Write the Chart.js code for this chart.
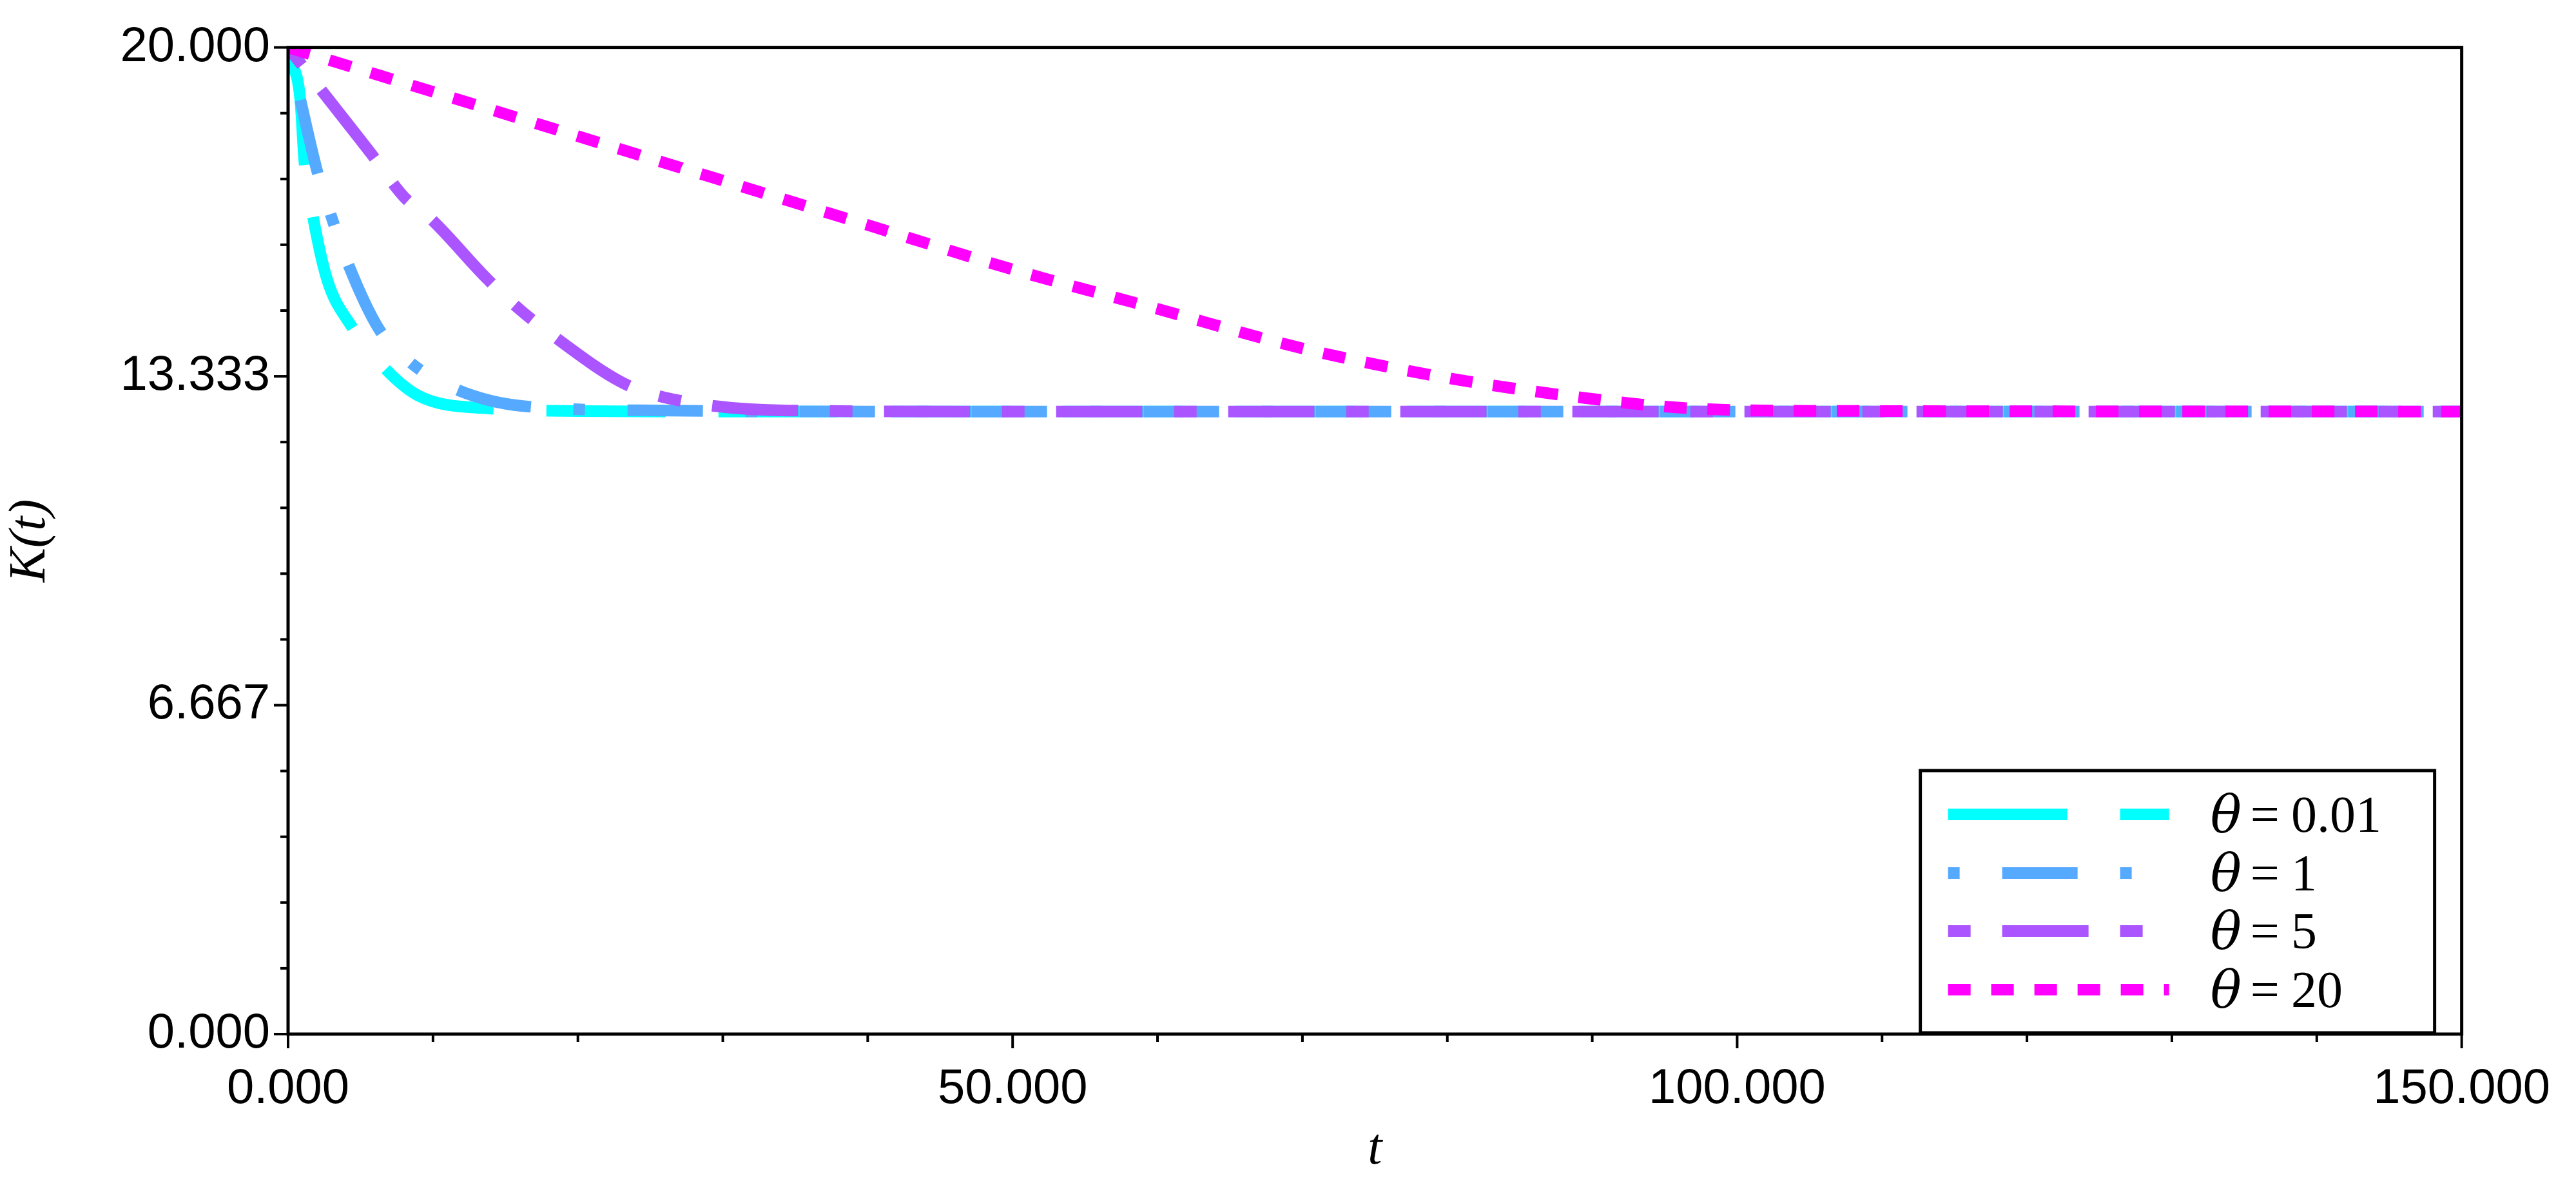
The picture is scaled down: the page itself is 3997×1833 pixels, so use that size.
<!DOCTYPE html>
<html><head><meta charset="utf-8">
<script src="https://cdn.jsdelivr.net/npm/chart.js@4/dist/chart.umd.min.js"></script>
<style>html,body{margin:0;padding:0;background:#fff}#wrap{width:3997px;height:1833px}</style>
</head><body><div id="wrap"><canvas id="c"></canvas></div>
<script>
const labels = ['0.01','1','5','20'];
const colors = ['#00FFFF','#55AAFF','#AA55FF','#FF00FF'];
const dashes = [[185,82],[18,66,117,66],[35,49,134,49],[35,32]];
const t001 = [0,0.15,0.84,1.13,1.7,2.7,4.35,6.5,9.0,13.9,20,30,150];
const k001 = [20,19.8,18.95,17.67,16.6,15.29,14.36,13.55,12.94,12.68,12.63,12.62,12.62];
const t1 = [0,0.8,2.0,3.0,4.1,6.25,8.5,11.5,16.2,26,40,150];
const k1 = [20,19.0,17.5,16.56,15.64,14.3,13.6,13.08,12.73,12.64,12.62,12.62];
const t5 = [0,2.2,5.75,8.0,9.8,13.8,16.1,18.4,23.1,25.9,34.5,50,150];
const k5 = [20,19.17,17.84,16.97,16.54,15.29,14.66,14.13,13.2,12.91,12.64,12.62,12.62];
const t20 = [0,10,20,30,40,50,60,70,80,88,95,100,110,150];
const k20 = [20,19.1,18.2,17.3,16.4,15.5,14.7,13.9,13.3,12.95,12.72,12.65,12.63,12.62];
const xTicksMajor = [0,50,100,150];
const yTicksMajor = [0,6.667,13.333,20];
const series = [[t001,k001],[t1,k1],[t5,k5],[t20,k20]];

const datasets = series.map((s,i)=>({
  label:'θ = '+labels[i],
  data:s[0].map((t,j)=>({x:t,y:s[1][j]})),
  borderColor:colors[i], borderWidth:18, borderDash:dashes[i], borderCapStyle:'butt',
  pointRadius:0, cubicInterpolationMode:'monotone', fill:false
}));
datasets.reverse();

const frame = {
  id:'frame',
  afterDatasetsDraw(chart){
    const {ctx, chartArea:a, scales:{x,y}} = chart;
    ctx.save();
    ctx.strokeStyle='#000'; ctx.lineWidth=5;
    ctx.strokeRect(a.left,a.top,a.right-a.left,a.bottom-a.top);
    ctx.lineWidth=4;
    for(let v=0; v<=150.001; v+=10){
      const px=x.getPixelForValue(v), L = (Math.round(v)%50===0)?22:12;
      ctx.beginPath(); ctx.moveTo(px,a.bottom); ctx.lineTo(px,a.bottom+L); ctx.stroke();
    }
    for(let k=0;k<=15;k++){
      const py=y.getPixelForValue(k*20/15), L=(k%5===0)?22:12;
      ctx.beginPath(); ctx.moveTo(a.left,py); ctx.lineTo(a.left-L,py); ctx.stroke();
    }
    // legend
    const lx=a.right-840, ly=a.bottom-409, lw=798, lh=407;
    ctx.fillStyle='#fff'; ctx.fillRect(lx,ly,lw,lh);
    ctx.lineWidth=5; ctx.strokeRect(lx,ly,lw,lh);
    const rows=[68,159,249,340];
    labels.forEach((lab,i)=>{
      const cy=ly+rows[i];
      ctx.save();
      ctx.strokeStyle=colors[i]; ctx.lineWidth=18; ctx.lineCap='butt'; ctx.setLineDash(dashes[i]);
      ctx.beginPath(); ctx.moveTo(lx+43,cy); ctx.lineTo(lx+386,cy); ctx.stroke();
      ctx.restore();
      ctx.fillStyle='#000'; ctx.textBaseline='alphabetic';
      let tx=lx+450; const by=cy+27;
      ctx.font='italic 80px "DejaVu Serif", "Liberation Serif", serif';
      ctx.fillText('θ',tx,by); tx+=ctx.measureText('θ').width+14;
      ctx.font='80px "Liberation Serif", "DejaVu Serif", serif';
      ctx.fillText('=',tx,by); tx+=ctx.measureText('=').width+18;
      ctx.fillText(lab,tx,by);
    });
    ctx.restore();
  }
};

new Chart(document.getElementById('c'),{
  type:'line',
  data:{datasets},
  options:{
    responsive:true, maintainAspectRatio:false, animation:false,
    layout:{padding:{top:66,right:134,left:0,bottom:0}},
    plugins:{legend:{display:false},tooltip:{enabled:false}},
    scales:{
      x:{type:'linear',min:0,max:150,
        afterFit(s){s.height=228;},
        grid:{display:false,drawTicks:false}, border:{display:false},
        ticks:{stepSize:50,padding:40,color:'#000',font:{family:'"Liberation Sans", Arial, sans-serif',size:76},
          callback:v=>xTicksMajor.includes(v)?v.toFixed(3):''},
        title:{display:true,text:'t',color:'#000',padding:{top:0,bottom:0},font:{family:'"Liberation Serif", serif',style:'italic',size:80}}
      },
      y:{type:'linear',min:0,max:20,
        afterFit(s){s.width=447;},
        afterBuildTicks(s){s.ticks=yTicksMajor.map(v=>({value:v}));},
        grid:{display:false,drawTicks:false}, border:{display:false},
        ticks:{padding:28,color:'#000',font:{family:'"Liberation Sans", Arial, sans-serif',size:76},
          callback:v=>Number(v).toFixed(3)},
        title:{display:true,text:'K(t)',color:'#000',padding:{top:0,bottom:20},font:{family:'"Liberation Serif", serif',style:'italic',size:80}}
      }
    }
  },
  plugins:[frame]
});
</script></body></html>
